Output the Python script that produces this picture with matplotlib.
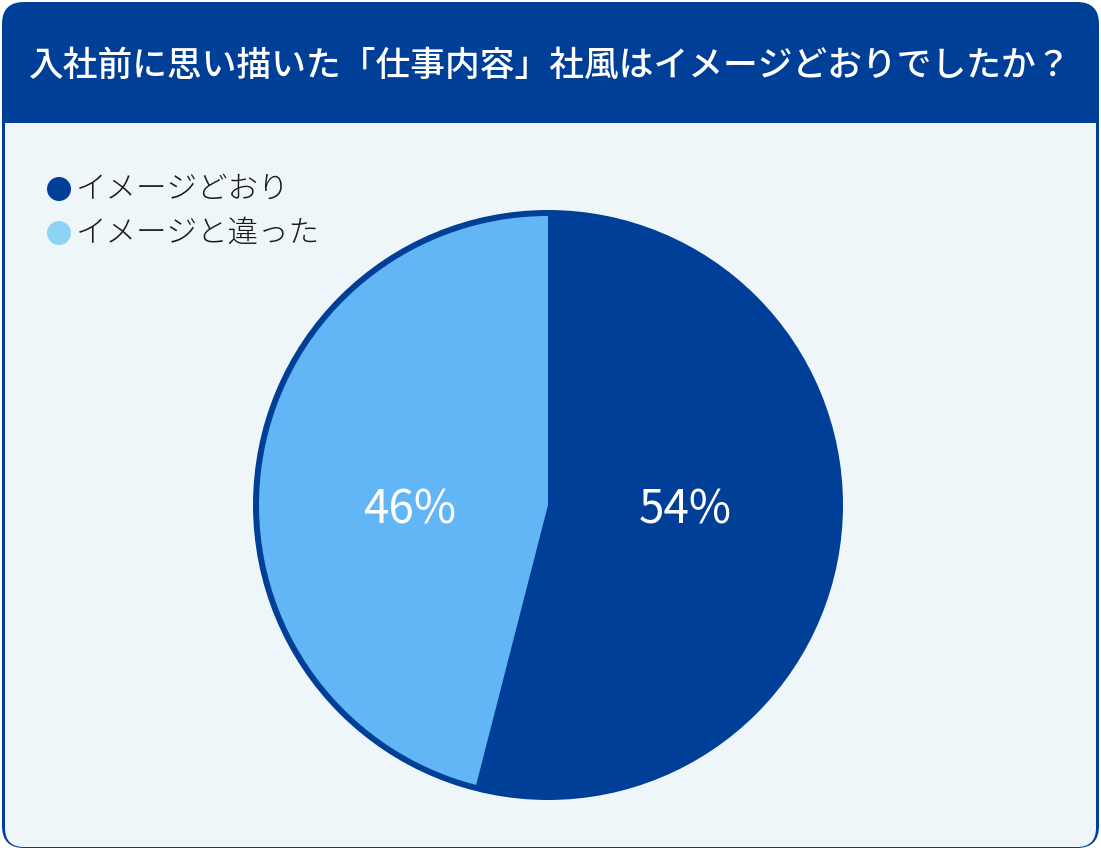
import matplotlib
matplotlib.use("Agg")
from matplotlib import pyplot as plt
from matplotlib.patches import FancyBboxPatch, Rectangle, Circle

plt.rcParams['font.family'] = ['Noto Sans CJK JP', 'DejaVu Sans']

##### Data
TITLE = "入社前に思い描いた「仕事内容」社風はイメージどおりでしたか？"
labels = ["イメージどおり", "イメージと違った"]
values = [54, 46]
pie_colors = ["#003F98", "#62B6F5"]
legend_colors = ["#003F98", "#8DD3F5"]

W, H = 1101, 850
DARK = "#003F98"
BODY = "#EFF6F9"

fig = plt.figure(figsize=(W / 100, H / 100), dpi=100)
fig.patch.set_facecolor("white")

# frame axes in pixel coords
bg = fig.add_axes([0, 0, 1, 1])
bg.set_xlim(0, W)
bg.set_ylim(H, 0)
bg.axis("off")

bg.add_patch(FancyBboxPatch((2, 2), W - 4, H - 4, boxstyle="round,pad=0,rounding_size=22",
                            facecolor=DARK, edgecolor="none"))
bg.add_patch(FancyBboxPatch((5, 123), W - 10, H - 126, boxstyle="round,pad=0,rounding_size=19",
                            facecolor=BODY, edgecolor="none"))
bg.add_patch(Rectangle((5, 123), W - 10, 60, facecolor=BODY, edgecolor="none"))

bg.text(W / 2, 66, TITLE, color="white", fontsize=25, fontweight="medium",
        ha="center", va="center")

# legend
for i, (lab, col) in enumerate(zip(labels, legend_colors)):
    y = 189 + i * 44
    bg.add_patch(Circle((59, y), 12, facecolor=col, edgecolor="none"))
    bg.text(76, y, lab, fontsize=22, fontweight="light", ha="left", va="center", color="#1a1a1a")

# pie
cx, cy, half = 548, 505, 310
ax = fig.add_axes([(cx - half) / W, (H - cy - half) / H, 2 * half / W, 2 * half / H])
ax.axis("off")
ax.add_patch(Circle((0, 0), 295, facecolor=DARK, edgecolor="none"))
wedges, _ = ax.pie(values, colors=pie_colors, startangle=90, counterclock=False,
                   radius=289, wedgeprops=dict(edgecolor="none", linewidth=0))
ax.set_xlim(-half, half)
ax.set_ylim(-half, half)
ax.set_aspect("equal")

pos = [(685 - cx, cy - 510), (410 - cx, cy - 510)]
for (x, y), v in zip(pos, values):
    ax.text(x, y, "{}%".format(v), color="white", fontsize=33, ha="center", va="center")

plt.savefig("out.png", dpi=100)
plt.close()
